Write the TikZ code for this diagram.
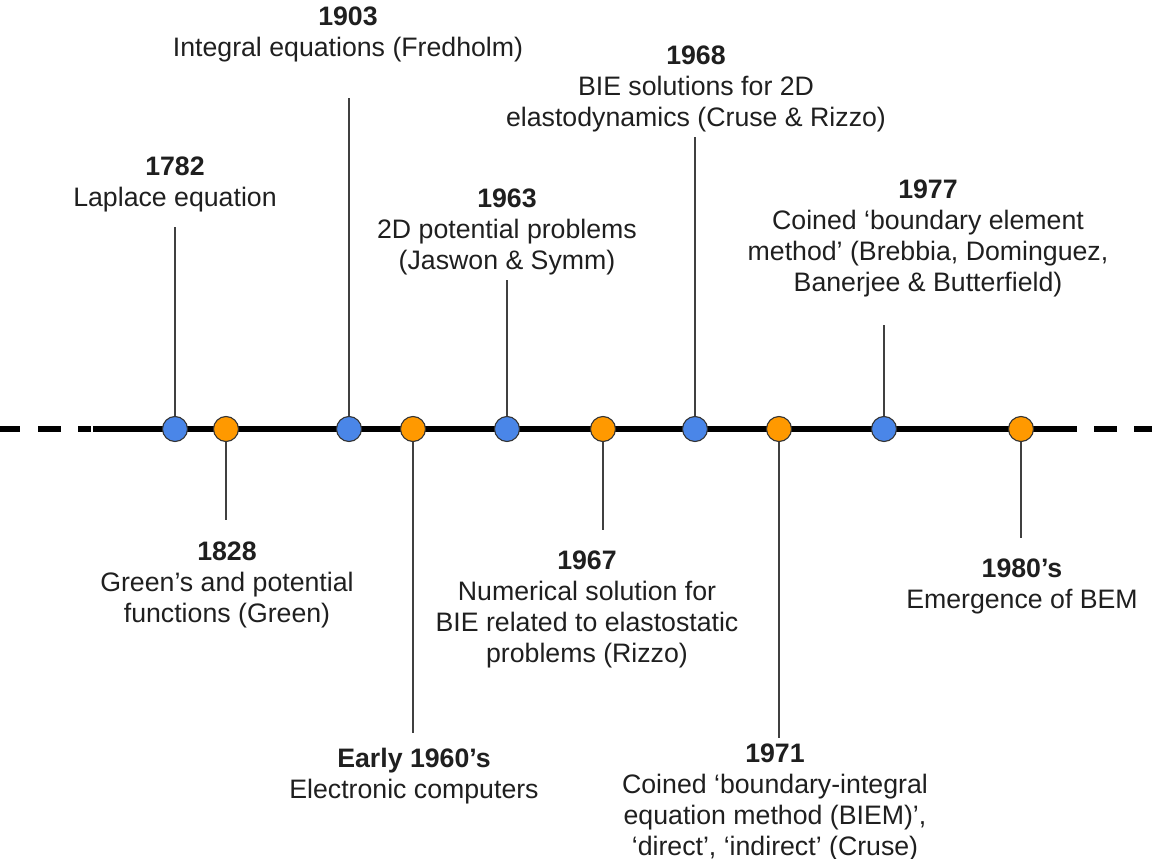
\documentclass[tikz,border=0pt]{standalone}
\usepackage{fontspec}
\setmainfont{Liberation Sans}
\definecolor{dotblue}{HTML}{4A86E8}
\definecolor{dotorange}{HTML}{FF9900}
\definecolor{txt}{HTML}{1F1F1F}
\begin{document}
\begin{tikzpicture}[x=1pt,y=-1pt,
  lbl/.style={align=center, inner sep=0pt, anchor=north, font=\fontsize{26.7}{31}\selectfont, text=txt},
  evdot/.style={circle, draw=black!80, line width=1.1pt, minimum size=25pt, inner sep=0pt},
  bluedot/.style={evdot, fill=dotblue},
  orangedot/.style={evdot, fill=dotorange},
  stem/.style={draw=black!75, line width=1.4pt},
  axis/.style={line width=5.2pt, black}]
\useasboundingbox (0,0) rectangle (1152,859);
% timeline
\coordinate (tl) at (93,429);
\coordinate (tr) at (1077,429);
\draw[axis] (tl) -- (tr);
\coordinate (a1) at (0,429);  \coordinate (a2) at (20,429);
\coordinate (a3) at (38,429); \coordinate (a4) at (61,429);
\coordinate (a5) at (78,429); \coordinate (a6) at (91,429);
\coordinate (b1) at (1094,429); \coordinate (b2) at (1117,429);
\coordinate (b3) at (1134,429); \coordinate (b4) at (1152,429);
\draw[axis] (a1) -- (a2) (a3) -- (a4) (a5) -- (a6) (b1) -- (b2) (b3) -- (b4);
% stem ends
\coordinate (s1) at (175,227);
\coordinate (s2) at (226,520);
\coordinate (s3) at (349,98);
\coordinate (s4) at (413,733);
\coordinate (s5) at (507,280);
\coordinate (s6) at (603,530);
\coordinate (s7) at (695,137);
\coordinate (s8) at (779,738);
\coordinate (s9) at (884,325);
\coordinate (s10) at (1021,538);
% dots
\node[bluedot]   (d1)  at (175,429) {};
\node[orangedot] (d2)  at (226,429) {};
\node[bluedot]   (d3)  at (349,429) {};
\node[orangedot] (d4)  at (413,429) {};
\node[bluedot]   (d5)  at (507,429) {};
\node[orangedot] (d6)  at (603,429) {};
\node[bluedot]   (d7)  at (695,429) {};
\node[orangedot] (d8)  at (779,429) {};
\node[bluedot]   (d9)  at (884,429) {};
\node[orangedot] (d10) at (1021,429) {};
% stems
\foreach \i in {1,...,10} { \draw[stem] (d\i) -- (s\i); }
% labels
\node[lbl] (l1) at (175,153.3) {\strut\textbf{1782}\\Laplace equation};
\node[lbl] (l2) at (227,538.3) {\strut\textbf{1828}\\Green’s and potential\\functions (Green)};
\node[lbl] (l3) at (348,3.3) {\strut\textbf{1903}\\Integral equations (Fredholm)};
\node[lbl] (l4) at (414,745.3) {\strut\textbf{Early 1960’s}\\Electronic computers};
\node[lbl] (l5) at (507,185.3) {\strut\textbf{1963}\\2D potential problems\\(Jaswon \& Symm)};
\node[lbl] (l6) at (587,547.3) {\strut\textbf{1967}\\Numerical solution for\\BIE related to elastostatic\\problems (Rizzo)};
\node[lbl] (l7) at (696,42.3) {\strut\textbf{1968}\\BIE solutions for 2D\\elastodynamics (Cruse \& Rizzo)};
\node[lbl] (l8) at (775,740.3) {\strut\textbf{1971}\\Coined ‘boundary-integral\\equation method (BIEM)’,\\‘direct’, ‘indirect’ (Cruse)};
\node[lbl] (l9) at (928,176.3) {\strut\textbf{1977}\\Coined ‘boundary element\\method’ (Brebbia, Dominguez,\\Banerjee \& Butterfield)};
\node[lbl] (l10) at (1022,555.3) {\strut\textbf{1980’s}\\Emergence of BEM};
\end{tikzpicture}
\end{document}
